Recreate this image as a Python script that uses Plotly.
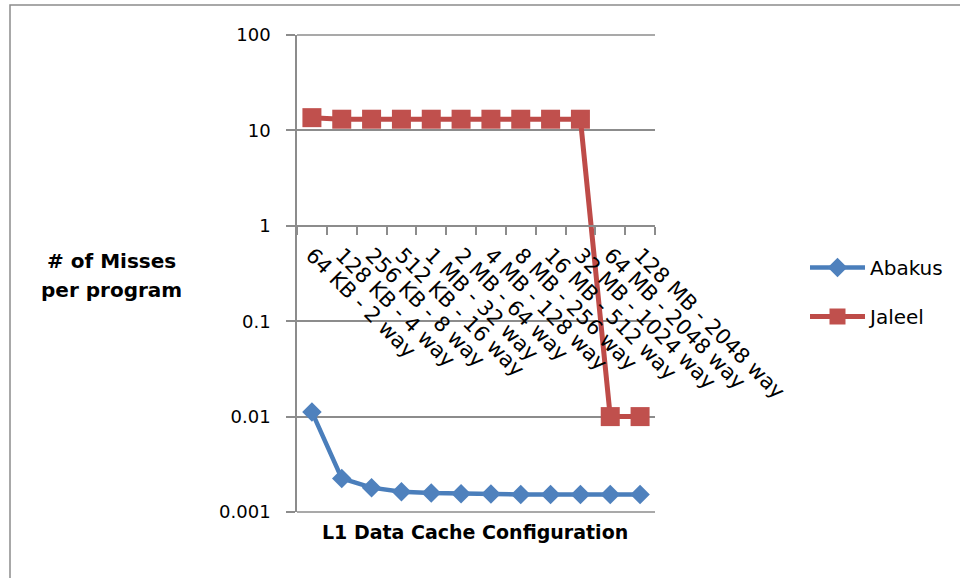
import plotly.graph_objects as go

categories = ["64 KB - 2 way", "128 KB - 4 way", "256 KB - 8 way", "512 KB - 16 way",
              "1 MB - 32 way", "2 MB - 64 way", "4 MB - 128 way", "8 MB - 256 way",
              "16 MB - 512 way", "32 MB - 1024 way", "64 MB - 2048 way", "128 MB - 2048 way"]
abakus = [0.0112, 0.00225, 0.00180, 0.00163, 0.00158, 0.00155, 0.00154, 0.00153,
          0.00153, 0.00153, 0.00153, 0.00153]
jaleel = [13.6, 13.1, 13.1, 13.1, 13.1, 13.1, 13.1, 13.1, 13.1, 13.1, 0.01, 0.01]
y_ticks = [0.001, 0.01, 0.1, 1, 10, 100]
y_ticktext = ["0.001", "0.01", "0.1", "1", "10", "100"]

FONT = "DejaVu Sans"
GRID = "#8c8c8c"

fig = go.Figure()
fig.add_trace(go.Scatter(x=categories, y=abakus, name="Abakus", mode="lines+markers",
                         line=dict(color="#4A7EBB", width=4.5),
                         marker=dict(symbol="diamond", size=15, color="#4F81BD"),
                         legendgroup="a"))
fig.add_trace(go.Scatter(x=categories, y=jaleel, name="Jaleel", mode="lines+markers",
                         line=dict(color="#BE4B48", width=5),
                         marker=dict(symbol="square", size=19, color="#C0504D"),
                         legendgroup="b"))

L, R, T, B = 297, 655, 35, 512
W, H = 960, 578

def px_x(p):
    return (p - L) / (R - L)

def px_y(p):
    return (B - p) / (B - T)

fig.update_layout(
    width=W, height=H,
    margin=dict(l=L, r=W - R, t=T, b=H - B),
    plot_bgcolor="white", paper_bgcolor="white",
    font=dict(family=FONT, size=18, color="black"),
    showlegend=True,
    legend=dict(x=px_x(805), y=px_y(248), xanchor="left", yanchor="top",
                font=dict(family=FONT, size=20, color="black"),
                itemwidth=55, tracegroupgap=20, bgcolor="rgba(0,0,0,0)"),
    xaxis=dict(type="category", categoryorder="array", categoryarray=categories,
               anchor="free", position=0.6, range=[-0.5, 11.5],
               showline=True, linecolor=GRID, linewidth=1.5,
               ticks="outside", tickson="boundaries", ticklen=8, tickcolor=GRID,
               tickwidth=1.5, tickangle=45, showgrid=False, ticklabelstandoff=8,
               tickfont=dict(family=FONT, size=21, color="black")),
    yaxis=dict(type="log", range=[-3, 2], tickvals=y_ticks, ticktext=y_ticktext,
               showgrid=True, gridcolor=GRID, gridwidth=1.5,
               showline=True, linecolor=GRID, linewidth=1.5,
               ticks="outside", ticklen=9, tickcolor=GRID, tickwidth=1.5,
               zeroline=False, ticklabelstandoff=12,
               tickfont=dict(family=FONT, size=18, color="black")),
    annotations=[
        dict(text="<b># of Misses</b>", xref="paper", yref="paper",
             x=px_x(111), y=px_y(261), showarrow=False, xanchor="center", yanchor="middle",
             font=dict(family=FONT, size=20, color="black")),
        dict(text="<b>per program</b>", xref="paper", yref="paper",
             x=px_x(111), y=px_y(290), showarrow=False, xanchor="center", yanchor="middle",
             font=dict(family=FONT, size=20, color="black")),
        dict(text="<b>L1 Data Cache Configuration</b>", xref="paper", yref="paper",
             x=px_x(475), y=px_y(532), showarrow=False, xanchor="center", yanchor="middle",
             font=dict(family=FONT, size=19, color="black")),
    ],
    shapes=[
        dict(type="rect", xref="paper", yref="paper",
             x0=px_x(10), x1=px_x(975), y0=px_y(600), y1=px_y(5),
             line=dict(color=GRID, width=1.5), layer="below"),
        dict(type="line", xref="paper", yref="paper", x0=0, x1=1, y0=0, y1=0,
             line=dict(color=GRID, width=1.5), layer="below"),
        dict(type="line", xref="paper", yref="paper", x0=0, x1=1, y0=1, y1=1,
             line=dict(color=GRID, width=1.5), layer="below"),
    ],
)

fig.write_html("out.html")
